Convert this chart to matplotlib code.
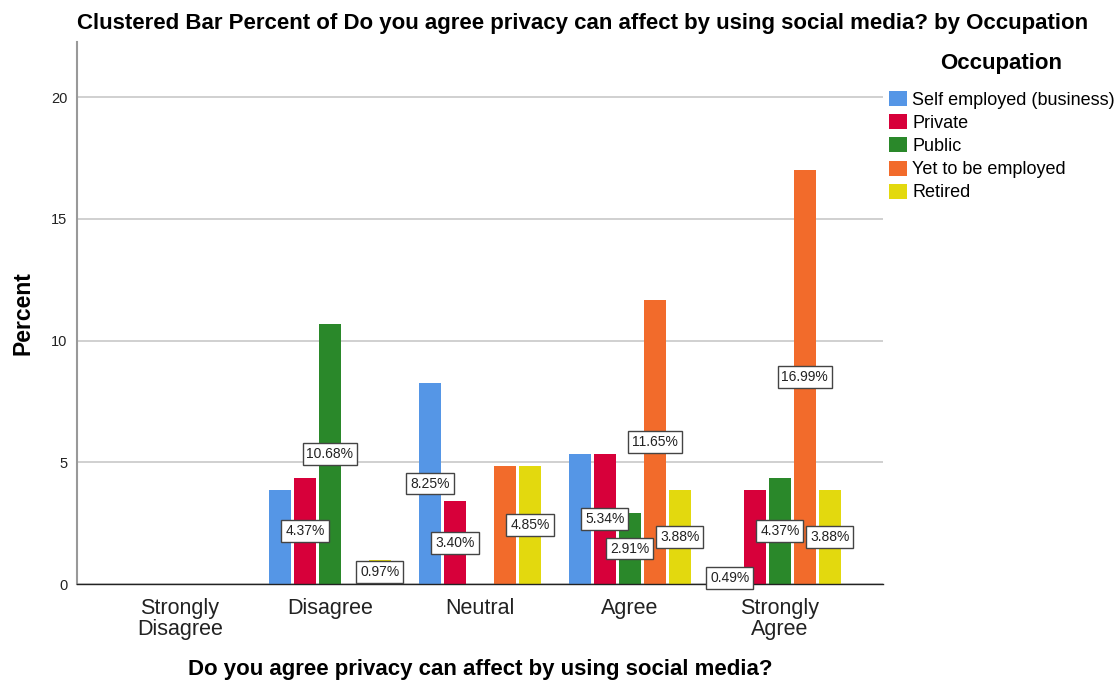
import numpy as np
import matplotlib
matplotlib.use("Agg")
import matplotlib.pyplot as plt

plt.rcParams['font.family'] = ['Liberation Sans', 'DejaVu Sans']

# response categories on the x axis
categories = ['Strongly\nDisagree', 'Disagree', 'Neutral', 'Agree', 'Strongly\nAgree']
occupations = ['Self employed (business)', 'Private', 'Public', 'Yet to be employed', 'Retired']

# percent of all respondents
self_employed = [0, 3.88, 8.25, 5.34, 0.49]
private = [0, 4.37, 3.40, 5.34, 3.88]
public = [0, 10.68, 0, 2.91, 4.37]
yet_to_be = [0, 0, 4.85, 11.65, 16.99]
retired = [0, 0.97, 4.85, 3.88, 3.88]

# which bars carry a value label (category index, occupation index)
labelled = [(1, 1), (1, 2), (1, 4),
            (2, 0), (2, 1), (2, 4),
            (3, 1), (3, 2), (3, 3), (3, 4),
            (4, 0), (4, 2), (4, 3), (4, 4)]

colors = ['#5596E6', '#D7003A', '#2A882A', '#F26B2B', '#E3D90E']
series = [self_employed, private, public, yet_to_be, retired]

fig = plt.figure(figsize=(11.19, 6.85), dpi=100)
ax = fig.add_axes([0.0688, 0.1474, 0.7202, 0.7913])

x = np.arange(len(categories))
step = 0.1667
width = 0.147
for i, (vals, c, name) in enumerate(zip(series, colors, occupations)):
    pos = x + (i - 2) * step
    ax.bar(pos, vals, width=width, color=c, label=name, zorder=2)

for ci, si in labelled:
    v = series[si][ci]
    ax.text(ci + (si - 2) * step, v / 2, f'{v:.2f}%', ha='center', va='center',
            fontsize=10, color='#222222', zorder=4,
            bbox=dict(boxstyle='square,pad=0.28', fc='white', ec='#444444', lw=1))

ax.set_xlim(-0.687, 4.687)
ax.set_ylim(0, 22.26)
ax.set_yticks([0, 5, 10, 15, 20])
ax.set_xticks(x)
ax.set_xticklabels(categories, fontsize=15.5, color='#222222', linespacing=1.0)
ax.tick_params(axis='y', length=0, labelsize=10.5, colors='#222222', pad=7)
ax.tick_params(axis='x', length=0, pad=10)
ax.yaxis.grid(True, color='#c8c8c8', lw=1.2, zorder=0)
ax.set_axisbelow(True)
for s in ['top', 'right']:
    ax.spines[s].set_visible(False)
ax.spines['left'].set_color('#999999')
ax.spines['left'].set_linewidth(1.5)
ax.spines['bottom'].set_color('#222222')
ax.spines['bottom'].set_linewidth(1)

ax.set_ylabel('Percent', fontsize=16.5, fontweight='bold', labelpad=12)
fig.text(0.429, 1 - 670 / 685, 'Do you agree privacy can affect by using social media?',
         ha='center', va='center', fontsize=16, fontweight='bold')

fig.text(0.521, 0.965, 'Clustered Bar Percent of Do you agree privacy can affect by using social media? by Occupation',
         ha='center', va='center', fontsize=16, fontweight='bold')

# legend title placed on its own, entries below it
fig.text(0.895, 1 - 63 / 685, 'Occupation', ha='center', va='center',
         fontsize=16, fontweight='bold')
leg = fig.legend(loc='upper left', bbox_to_anchor=(0.788, 1 - 84 / 685), frameon=False,
                 fontsize=13, handlelength=1.0, handleheight=0.9,
                 handletextpad=0.3, labelspacing=0.3, borderaxespad=0)

fig.savefig('out.png', dpi=100)
